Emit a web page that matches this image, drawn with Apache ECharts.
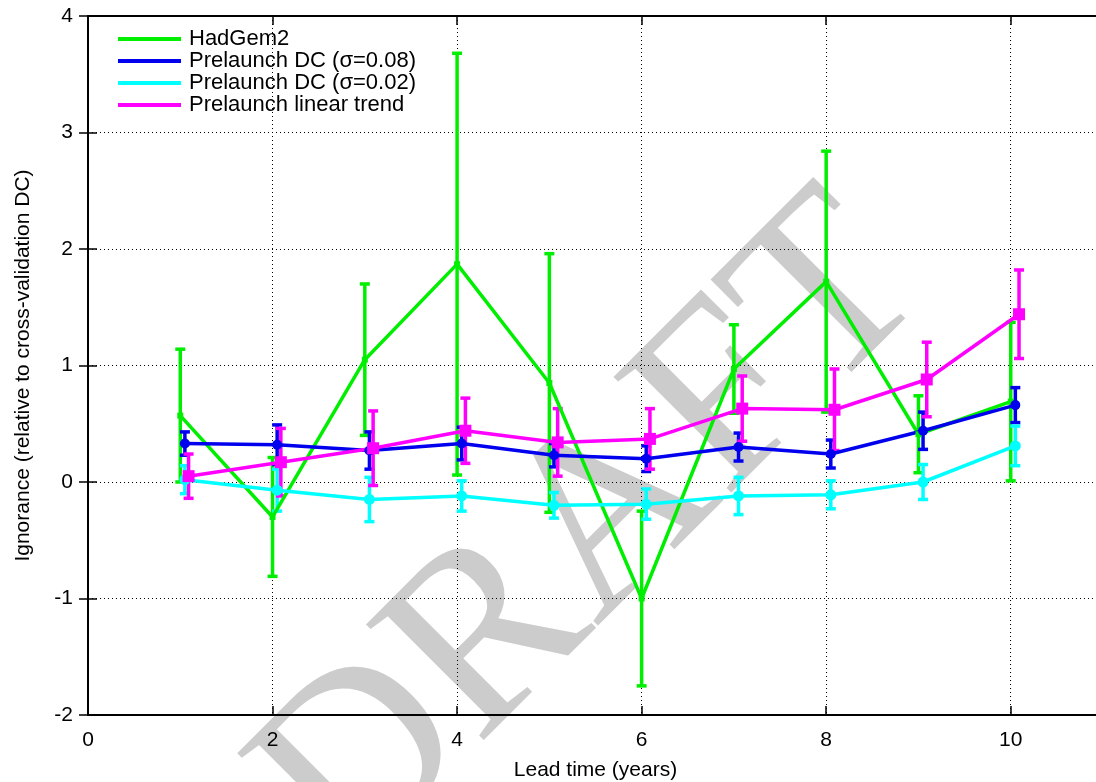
<!DOCTYPE html>
<html>
<head>
<meta charset="utf-8">
<script src="https://cdn.jsdelivr.net/npm/echarts@6/dist/echarts.min.js"></script>
<style>
html,body{margin:0;padding:0;background:#fff;}
#chart{width:1096px;height:782px;}
</style>
</head>
<body>
<div id="chart"></div>
<script>
// ---- data ----
const leadTime = [1, 2, 3, 4, 5, 6, 7, 8, 9, 10];
const xTicks = [0, 2, 4, 6, 8, 10];
const yTicks = [-2, -1, 0, 1, 2, 3, 4];

const seriesNames = ['HadGem2', 'Prelaunch DC (σ=0.08)', 'Prelaunch DC (σ=0.02)', 'Prelaunch linear trend'];

const hadgemValue = [0.57, -0.30, 1.05, 1.87, 0.85, -1.00, 0.97, 1.72, 0.41, 0.69];
const hadgemErr   = [0.57, 0.51, 0.65, 1.81, 1.11, 0.75, 0.38, 1.12, 0.33, 0.68];

const dc08Value = [0.33, 0.32, 0.27, 0.33, 0.23, 0.20, 0.30, 0.24, 0.44, 0.66];
const dc08Err   = [0.10, 0.17, 0.16, 0.14, 0.10, 0.11, 0.12, 0.12, 0.16, 0.15];

const dc02Value = [0.02, -0.07, -0.15, -0.12, -0.20, -0.19, -0.12, -0.11, 0.00, 0.31];
const dc02Err   = [0.12, 0.18, 0.19, 0.13, 0.11, 0.13, 0.16, 0.12, 0.15, 0.17];

const trendValue = [0.05, 0.17, 0.29, 0.44, 0.34, 0.37, 0.63, 0.62, 0.88, 1.44];
const trendErr   = [0.19, 0.29, 0.32, 0.28, 0.29, 0.26, 0.28, 0.35, 0.32, 0.38];

// ---- presentation ----
const FONT = 'Liberation Sans';
const colors = ['#00ee00', '#0000ee', '#00ffff', '#ff00ff'];
const xShift = [0, 0.05, 0.05, 0.09];
const symbols = [['rect', 6], ['circle', 10], ['circle', 11], ['rect', 12]];

const chart = echarts.init(document.getElementById('chart'), null, {renderer: 'canvas'});

function errorBarSeries(name, xs, vals, errs, color) {
  return {
    name: name,
    type: 'custom',
    data: xs.map((x, i) => [x, vals[i] - errs[i], vals[i] + errs[i]]),
    encode: {x: 0, y: [1, 2]},
    renderItem: function (params, api) {
      const x = api.value(0);
      const lo = api.coord([x, api.value(1)]);
      const hi = api.coord([x, api.value(2)]);
      const cap = 5;
      const st = {stroke: color, lineWidth: 3.5};
      return {
        type: 'group',
        children: [
          {type: 'line', shape: {x1: lo[0], y1: lo[1], x2: hi[0], y2: hi[1]}, style: st},
          {type: 'line', shape: {x1: lo[0] - cap, y1: lo[1], x2: lo[0] + cap, y2: lo[1]}, style: st},
          {type: 'line', shape: {x1: hi[0] - cap, y1: hi[1], x2: hi[0] + cap, y2: hi[1]}, style: st}
        ]
      };
    },
    z: 2
  };
}

function lineSeries(name, xs, vals, color, sym) {
  return {
    name: name,
    type: 'line',
    data: xs.map((x, i) => [x, vals[i]]),
    symbol: sym[0],
    symbolSize: sym[1],
    showSymbol: true,
    itemStyle: {color: color},
    lineStyle: {color: color, width: 3.5},
    animation: false,
    z: 2
  };
}

const allVals = [hadgemValue, dc08Value, dc02Value, trendValue];
const allErrs = [hadgemErr, dc08Err, dc02Err, trendErr];
const series = [];
allVals.forEach((vals, k) => {
  const xs = leadTime.map(x => x + xShift[k]);
  series.push(errorBarSeries(seriesNames[k], xs, vals, allErrs[k], colors[k]));
  series.push(lineSeries(seriesNames[k], xs, vals, colors[k], symbols[k]));
});

const splitStyle = {show: true, lineStyle: {color: '#000', width: 1, type: [1, 3]}};
const axisLineStyle = {show: true, onZero: false, lineStyle: {color: '#000', width: 2}};
const tickStyle = {show: true, inside: true, length: 9, lineStyle: {color: '#000', width: 1.5}};

const option = {
  backgroundColor: '#fff',
  animation: false,
  color: colors,
  grid: {left: 88, top: 16, right: -7, bottom: 67, containLabel: false, outerBoundsMode: 'none'},
  legend: {
    orient: 'vertical',
    left: 113,
    top: 23,
    icon: 'rect',
    itemWidth: 63,
    itemHeight: 4,
    itemGap: 0,
    data: seriesNames,
    textStyle: {fontFamily: FONT, fontSize: 22, color: '#000', lineHeight: 22, padding: [0, 0, 0, 3]}
  },
  graphic: {
    elements: [{
      type: 'text',
      x: 594,
      y: 536,
      rotation: Math.PI / 4,
      z: -10,
      silent: true,
      style: {
        text: 'DRAFT',
        font: '252px "Liberation Serif"',
        fill: '#cccccc',
        stroke: '#ffffff',
        lineWidth: 11,
        textAlign: 'center',
        textVerticalAlign: 'middle'
      }
    }]
  },
  xAxis: [{
    type: 'value',
    min: 0, max: 11, interval: 2,
    name: 'Lead time (years)',
    nameLocation: 'middle',
    nameGap: 45,
    nameTextStyle: {fontFamily: FONT, fontSize: 21, color: '#000'},
    axisLine: axisLineStyle,
    axisTick: tickStyle,
    axisLabel: {fontFamily: FONT, fontSize: 21, color: '#000', margin: 15, showMaxLabel: false,
      formatter: v => (xTicks.indexOf(v) >= 0 ? String(v) : '')},
    splitLine: splitStyle
  }, {
    type: 'value',
    position: 'top',
    min: 0, max: 11, interval: 2,
    axisLine: axisLineStyle,
    axisTick: tickStyle,
    axisLabel: {show: false},
    splitLine: {show: false}
  }],
  yAxis: [{
    type: 'value',
    min: -2, max: 4, interval: 1,
    name: 'Ignorance (relative to cross-validation DC)',
    nameLocation: 'middle',
    nameGap: 54,
    nameTextStyle: {fontFamily: FONT, fontSize: 21, color: '#000'},
    axisLine: axisLineStyle,
    axisTick: tickStyle,
    axisLabel: {fontFamily: FONT, fontSize: 21, color: '#000', margin: 15,
      formatter: v => (yTicks.indexOf(v) >= 0 ? String(v) : '')},
    splitLine: splitStyle
  }, {
    type: 'value',
    position: 'right',
    min: -2, max: 4, interval: 1,
    axisLine: {show: false},
    axisTick: tickStyle,
    axisLabel: {show: false},
    splitLine: {show: false}
  }],
  series: series
};

chart.setOption(option);
</script>
</body>
</html>
